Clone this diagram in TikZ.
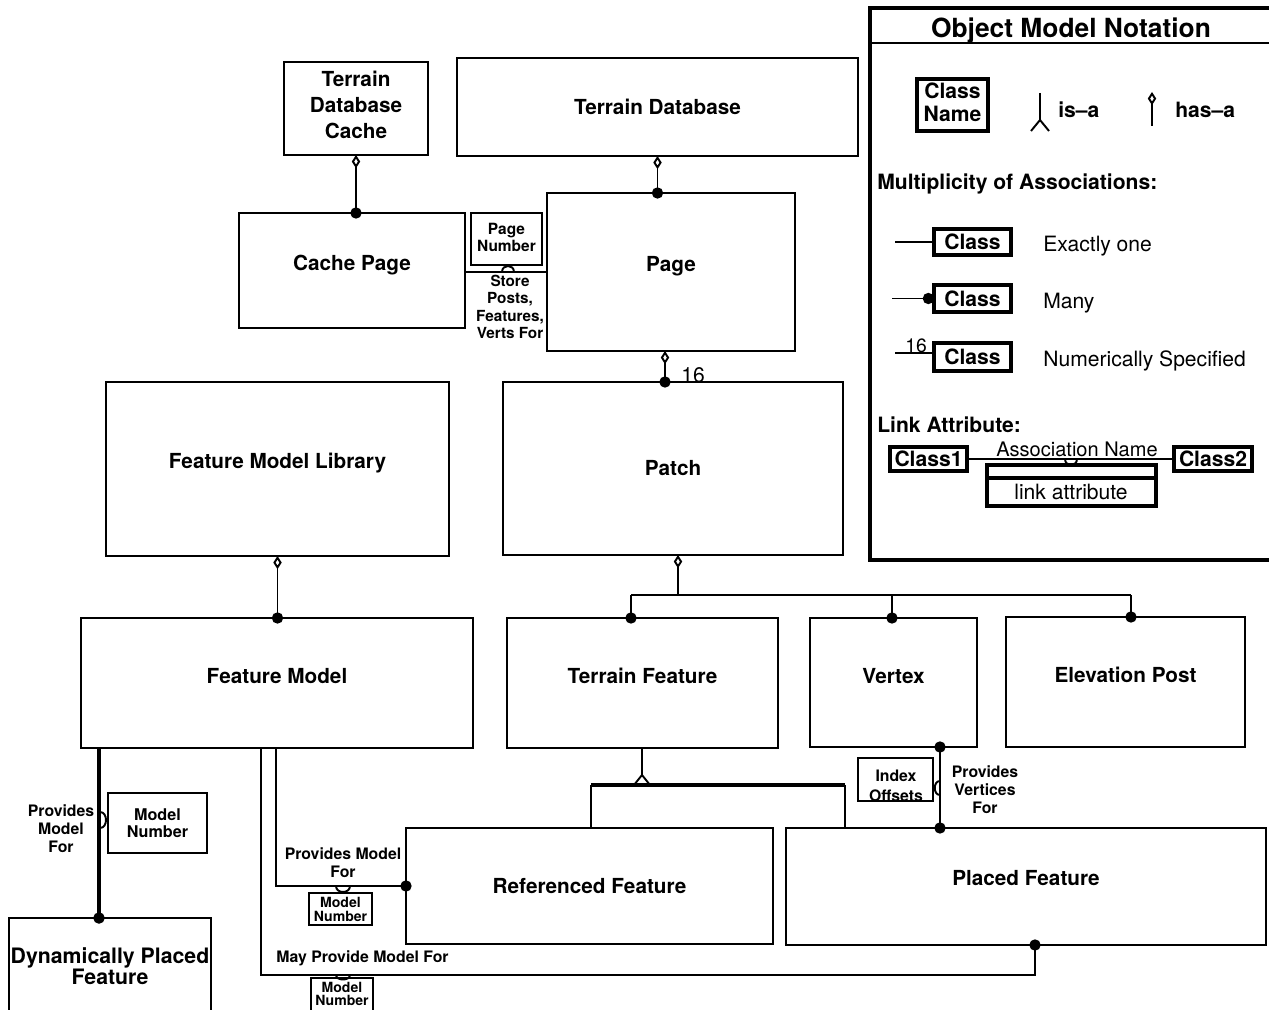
\documentclass[tikz,border=0pt]{standalone}
\usepackage{fontspec}
\setmainfont{TeX Gyre Heros}
\usetikzlibrary{arrows.meta,calc}
\newcommand\ubox[6][]{\node[box,#1,minimum width={(#4-#2)*0.02cm},minimum height={(#5-#3)*0.02cm}] (#6) at ({(#2+#4)/2},{(#3+#5)/2})}
\begin{document}
\begin{tikzpicture}[x=0.02cm,y=-0.02cm,
  box/.style={draw,line width=1.1pt,inner sep=0pt,outer sep=0pt,align=center,font=\fontsize{11.8}{14.7}\selectfont\bfseries},
  hbox/.style={box,line width=1.9pt},
  up/.style={text depth=9pt},
  lbl/.style={inner sep=0pt,align=center,font=\fontsize{9}{10.2}\selectfont\bfseries},
  tinyb/.style={font=\fontsize{8}{7.9}\selectfont\bfseries},
  reg/.style={inner sep=0pt,font=\fontsize{12}{14}\selectfont},
  regb/.style={inner sep=0pt,font=\fontsize{12}{14}\selectfont\bfseries},
  conn/.style={line width=1.1pt},
  hasa/.style={conn,arrows={Diamond[open,length=7.5pt,width=4.8pt]-Circle[length=6.4pt]},shorten >=-3.2pt},
  hasonly/.style={conn,arrows={Diamond[open,length=7.5pt,width=4.8pt]-}},
  many/.style={conn,arrows={-Circle[length=6.4pt]},shorten >=-3.2pt},
  manyboth/.style={conn,arrows={Circle[length=6.4pt]-Circle[length=6.4pt]},shorten <=-3.2pt,shorten >=-3.2pt}
]
\useasboundingbox (0,0) rectangle (1269,1010);

% ---------------- classes ----------------
\ubox[text depth=4.6pt]{284}{62}{428}{155}{tdc} {Terrain\\Database\\Cache};
\ubox{457}{58}{858}{156}{td} {Terrain Database};
\ubox[up]{239}{213}{465}{328}{cp} {Cache Page};
\ubox[up]{547}{193}{795}{351}{pg} {Page};
\ubox[font=\fontsize{8.8}{7.6}\selectfont\bfseries,text depth=2pt]{471}{213}{542}{265}{pn} {Page\\Number};
\ubox[up]{106}{382}{449}{556}{fml} {Feature Model Library};
\ubox{503}{382}{843}{555}{patch} {Patch};
\ubox[text depth=8pt]{81}{618}{473}{748}{fm} {Feature Model};
\ubox[text depth=8pt]{507}{618}{778}{748}{tf} {Terrain Feature};
\ubox[text depth=8pt]{810}{618}{977}{747}{vx} {Vertex};
\ubox[text depth=8pt]{1006}{617}{1245}{747}{ep} {Elevation Post};
\ubox{406}{828}{773}{944}{rf} {Referenced Feature};
\ubox[text depth=10pt]{786}{828}{1266}{945}{pf} {Placed Feature};
\ubox[font=\fontsize{12.1}{12}\selectfont\bfseries]{9}{918}{211}{1015}{dpf} {Dynamically Placed\\Feature};
\ubox{858}{758}{933}{801}{io} {};
\node[lbl,font=\fontsize{9}{11.3}\selectfont\bfseries] (iotext) at (896,786) {Index\\Offsets};
\ubox[lbl,font=\fontsize{9.2}{10}\selectfont\bfseries]{108}{793}{207}{853}{mna} {Model\\Number};
\ubox[tinyb]{309}{893}{372}{925}{mnb} {Model\\Number};
\ubox[tinyb,text depth=3pt]{311}{978}{373}{1015}{mnc} {Model\\Number};

% ---------------- helper coordinates ----------------
\coordinate (x665) at (665,0);
\coordinate (x678) at (678,0);
\coordinate (x940) at (940,0);
\coordinate (y272) at (0,272);
\coordinate (bus) at (678,595);
\coordinate (b1) at (631,595);
\coordinate (b2) at (892,595);
\coordinate (b3) at (1131,595);
\coordinate (isa) at (642,775);
\coordinate (g1) at (591,785);
\coordinate (g2) at (845,785);
\coordinate (fa) at (99,748);
\coordinate (fb) at (276,748);
\coordinate (fbc) at (276,886);
\coordinate (fc) at (261,748);
\coordinate (fcc) at (261,975);
\coordinate (pfc) at (1035,975);

% ---------------- associations ----------------
\draw[hasa] (tdc.south) -- (tdc.south |- cp.north);
\draw[hasa] (td.south) -- (td.south |- pg.north);
\draw[hasa] (x665 |- pg.south) -- (x665 |- patch.north);
\node[reg] (n16) at (693,375) {16};
\draw[hasa] (fml.south) -- (fml.south |- fm.north);

% Cache page -- page
\draw[conn] (cp.east |- y272) -- (pg.west |- y272);
\draw[conn] (502,272) .. controls (502,264) and (514,264) .. (514,272);
\node[lbl,font=\fontsize{8.7}{10}\selectfont\bfseries] (spf) at (510,307) {Store\\Posts,\\Features,\\Verts For};

% Patch aggregation
\draw[hasonly] (x678 |- patch.south) -- (bus);
\draw[conn] (b1) -- (b3);
\draw[many] (b1) -- (b1 |- tf.north);
\draw[many] (b2) -- (b2 |- vx.north);
\draw[many] (b3) -- (b3 |- ep.north);

% Terrain feature generalization
\draw[conn] (isa |- tf.south) -- (isa);
\draw[conn] (634,785) -- (isa) -- (650,785);
\draw[line width=2.1pt] (g1) -- (g2);
\draw[conn] (g1) -- (g1 |- rf.north);
\draw[conn] (g2) -- (g2 |- pf.north);

% Vertex -- placed feature
\draw[manyboth] (x940 |- vx.south) -- (x940 |- pf.north);
\draw[conn] (940,781) .. controls (933,781) and (933,795) .. (940,795);
\node[lbl] (pvf) at (985,790) {Provides\\Vertices\\For};

% Feature model -- dynamically placed feature
\draw[line width=2.3pt,arrows={-Circle[length=6.4pt]},shorten >=-3.2pt] (fa) -- (fa |- dpf.north);
\draw[conn] (100,812) .. controls (108,812) and (108,828) .. (100,828);
\node[lbl] (pmf1) at (61,829) {Provides\\Model\\For};

% Feature model -- referenced feature
\draw[many] (fb) -- (fbc) -- (fbc -| rf.west);
\draw[conn] (336,886) .. controls (336,894) and (350,894) .. (350,886);
\node[lbl] (pmf2) at (343,863) {Provides Model\\For};

% Feature model -- placed feature
\draw[many] (fc) -- (fcc) -- (pfc) -- (pfc |- pf.south);
\draw[conn] (336,975) .. controls (336,981) and (350,981) .. (350,975);
\node[lbl,anchor=west] (mpmf) at (276,958) {May Provide Model For};

% ---------------- legend ----------------
\draw[line width=1.8pt] (1275,8) -- (870,8) -- (870,560) -- (1275,560);
\draw[line width=0.8pt] (870,43) -- (1275,43);
\node[inner sep=0pt,font=\fontsize{15}{17}\selectfont\bfseries] (ttl) at (1071,31) {Object Model Notation};
\ubox[hbox,font=\fontsize{12}{13}\selectfont\bfseries,text depth=3pt]{917}{79}{988}{131}{cn} {Class\\Name};
\draw[conn] (1040,93) -- (1040,120);
\draw[conn] (1031,131) -- (1040,120) -- (1049,131);
\node[regb,anchor=west] (isal) at (1058,110) {is--a};
\draw[hasonly] (1152,92) -- (1152,126);
\node[regb,anchor=west] (hasal) at (1175,110) {has--a};
\node[regb,anchor=west] (mult) at (877,184) {Multiplicity of Associations:};

\ubox[hbox,font=\fontsize{12}{13}\selectfont\bfseries]{934}{229}{1011}{255}{ca} {Class};
\draw[conn] (ca.west) -- ++(-39,0);
\node[reg,anchor=west] (eo) at (1043,246) {Exactly one};
\ubox[hbox,font=\fontsize{12}{13}\selectfont\bfseries]{934}{285}{1011}{312}{cb} {Class};
\draw[conn,arrows={-Circle[length=6.4pt]}] ($(cb.west)+(-42,0)$) -- (cb.west);
\node[reg,anchor=west] (mny) at (1043,303) {Many};
\ubox[hbox,font=\fontsize{12}{13}\selectfont\bfseries]{934}{343}{1011}{371}{cc} {Class};
\draw[conn] ($(cc.west)+(0,-4)$) -- ++(-39,0);
\node[reg,font=\fontsize{11}{12}\selectfont] (l16) at (916,346) {16};
\node[reg,anchor=west] (ns) at (1043,361) {Numerically Specified};

\node[regb,anchor=west] (latt) at (877,425) {Link Attribute:};
\ubox[hbox,font=\fontsize{12}{13}\selectfont\bfseries]{890}{447}{967}{471}{cl1} {Class1};
\ubox[hbox,font=\fontsize{12}{13}\selectfont\bfseries]{1174}{447}{1252}{471}{cl2} {Class2};
\draw[conn] (cl1.east) -- (cl2.west);
\node[reg,font=\fontsize{11.4}{13}\selectfont] (asn) at (1077,449) {Association Name};
\ubox[hbox]{987}{465}{1156}{506}{lab} {};
\draw[line width=1.8pt] (lab.west |- 0,478) -- (lab.east |- 0,478);
\node[reg] (labt) at (1071,492) {link attribute};
\draw[conn] (1065,459) .. controls (1065,467) and (1077,467) .. (1077,459);
\end{tikzpicture}
\end{document}
